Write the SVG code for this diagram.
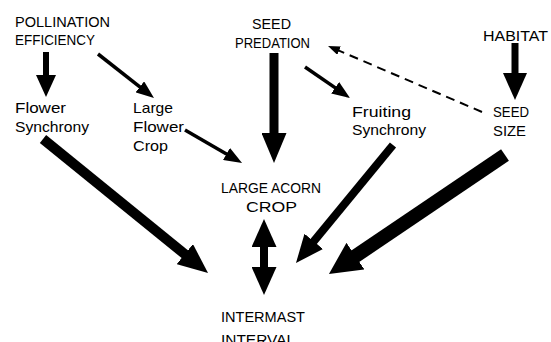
<svg xmlns="http://www.w3.org/2000/svg" width="551" height="342" viewBox="0 0 551 342">
<style>
text{font-family:"Liberation Sans",Arial,sans-serif;font-size:15px;fill:#000}
.c line{stroke:#000;fill:none}
.dash{stroke-dasharray:9 6}
</style>
<defs>
<marker id="hs" markerUnits="userSpaceOnUse" markerWidth="18" markerHeight="14" refX="2" refY="7" orient="auto"><path d="M0,0 L18,7 L0,14 z"/></marker>
<marker id="hd" markerUnits="userSpaceOnUse" markerWidth="12" markerHeight="9" refX="2" refY="4.5" orient="auto"><path d="M0,0 L12,4.5 L0,9 z"/></marker>
<marker id="h1" markerUnits="userSpaceOnUse" markerWidth="22" markerHeight="20" refX="2" refY="10" orient="auto"><path d="M0,0 L22,10 L0,20 z"/></marker>
<marker id="h4" markerUnits="userSpaceOnUse" markerWidth="30" markerHeight="25" refX="2" refY="12.5" orient="auto"><path d="M0,0 L30,12.5 L0,25 z"/></marker>
<marker id="h7" markerUnits="userSpaceOnUse" markerWidth="27" markerHeight="24" refX="2" refY="12" orient="auto"><path d="M0,0 L27,12 L0,24 z"/></marker>
<marker id="h8" markerUnits="userSpaceOnUse" markerWidth="30" markerHeight="26" refX="2" refY="13" orient="auto"><path d="M0,0 L30,13 L0,26 z"/></marker>
<marker id="h9" markerUnits="userSpaceOnUse" markerWidth="28" markerHeight="25" refX="2" refY="12.5" orient="auto-start-reverse"><path d="M0,0 L28,12.5 L0,25 z"/></marker>
<marker id="h10" markerUnits="userSpaceOnUse" markerWidth="28" markerHeight="24" refX="2" refY="12" orient="auto"><path d="M0,0 L28,12 L0,24 z"/></marker>
<marker id="h11" markerUnits="userSpaceOnUse" markerWidth="32" markerHeight="32" refX="2" refY="16" orient="auto"><path d="M0,0 L32,16 L0,32 z"/></marker>
</defs>

<g id="connectors" class="c">
<line x1="46" y1="52" x2="46" y2="77" stroke-width="6" marker-end="url(#h1)"/>
<line x1="98" y1="54" x2="141.4" y2="88.1" stroke-width="3.5" marker-end="url(#hs)"/>
<line x1="185" y1="130" x2="228.2" y2="155" stroke-width="3.5" marker-end="url(#hs)"/>
<line x1="274" y1="53" x2="274" y2="135" stroke-width="9" marker-end="url(#h4)"/>
<line x1="305" y1="67" x2="336.8" y2="88.9" stroke-width="3.5" marker-end="url(#hs)"/>
<line class="dash" x1="482" y1="112" x2="337.2" y2="49.9" stroke-width="2" marker-end="url(#hd)"/>
<line x1="515" y1="43" x2="515" y2="75" stroke-width="7" marker-end="url(#h7)"/>
<line x1="43" y1="139" x2="186.3" y2="255.4" stroke-width="10" marker-end="url(#h8)"/>
<line x1="264" y1="245" x2="264" y2="269" stroke-width="8" marker-start="url(#h9)" marker-end="url(#h9)"/>
<line x1="393" y1="145" x2="312.5" y2="242.9" stroke-width="8" marker-end="url(#h10)"/>
<line x1="505" y1="155" x2="353.8" y2="257.2" stroke-width="14" marker-end="url(#h11)"/>
</g>

<g id="pollination"><text x="15" y="27" textLength="95" lengthAdjust="spacingAndGlyphs">POLLINATION</text><text x="15" y="45" textLength="80" lengthAdjust="spacingAndGlyphs">EFFICIENCY</text></g>
<g id="flower-synchrony"><text x="15" y="113" textLength="51" lengthAdjust="spacingAndGlyphs">Flower</text><text x="15" y="132" textLength="74" lengthAdjust="spacingAndGlyphs">Synchrony</text></g>
<g id="large-flower-crop"><text x="133" y="113" textLength="40" lengthAdjust="spacingAndGlyphs">Large</text><text x="133" y="132" textLength="51" lengthAdjust="spacingAndGlyphs">Flower</text><text x="133" y="151" textLength="35" lengthAdjust="spacingAndGlyphs">Crop</text></g>
<g id="seed-predation"><text x="252" y="29" textLength="39" lengthAdjust="spacingAndGlyphs">SEED</text><text x="235" y="48" textLength="75" lengthAdjust="spacingAndGlyphs">PREDATION</text></g>
<g id="habitat"><text x="483" y="41" textLength="65" lengthAdjust="spacingAndGlyphs">HABITAT</text></g>
<g id="seed-size"><text x="493" y="117" textLength="36" lengthAdjust="spacingAndGlyphs">SEED</text><text x="493" y="136" textLength="33" lengthAdjust="spacingAndGlyphs">SIZE</text></g>
<g id="fruiting-synchrony"><text x="352" y="117" textLength="59" lengthAdjust="spacingAndGlyphs">Fruiting</text><text x="352" y="135" textLength="74" lengthAdjust="spacingAndGlyphs">Synchrony</text></g>
<g id="large-acorn-crop"><text x="221" y="193" textLength="100" lengthAdjust="spacingAndGlyphs">LARGE ACORN</text><text x="246" y="212" textLength="51" lengthAdjust="spacingAndGlyphs">CROP</text></g>
<g id="intermast-interval"><text x="221" y="322" textLength="84" lengthAdjust="spacingAndGlyphs">INTERMAST</text><text x="221" y="345" textLength="74" lengthAdjust="spacingAndGlyphs">INTERVAL</text></g>
</svg>
